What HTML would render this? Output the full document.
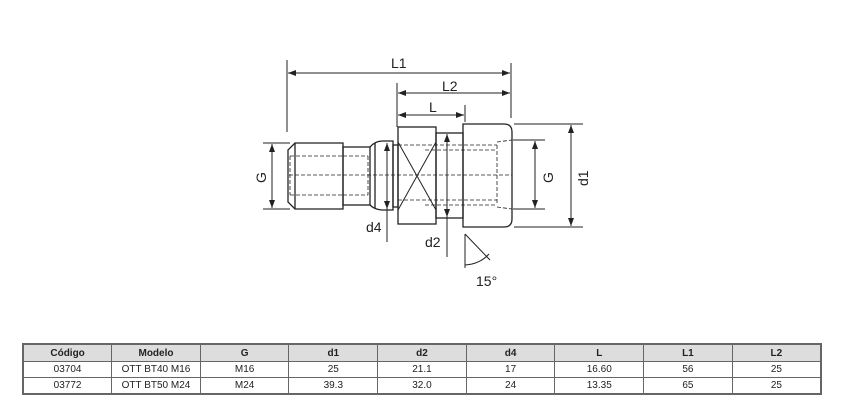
<!DOCTYPE html><html><head><style>
body{margin:0;background:#fff;width:844px;height:417px;position:relative;overflow:hidden;font-family:"Liberation Sans",sans-serif}
svg{position:absolute;left:0;top:0}
table{position:absolute;left:22px;top:343px;width:800px;border-collapse:collapse;font-size:10px;color:#222}
td{border:1px solid #666;text-align:center;height:15px;padding:0;width:11.1%}
tr.h td{background:#ddd;font-weight:bold;height:16px}
table{border:2px solid #666}
</style></head><body>
<svg width="844" height="417" viewBox="0 0 844 417" fill="none" stroke="#222" stroke-width="1">
<defs><marker id="a" markerWidth="8" markerHeight="6" refX="8" refY="3" orient="auto-start-reverse"><path d="M0,0L8,3L0,6z" fill="#222" stroke="none"/></marker></defs>
<!-- ext lines -->
<line x1="287" y1="60" x2="287" y2="132"/><line x1="511" y1="63" x2="511" y2="118"/>
<line x1="397" y1="83" x2="397" y2="127"/><line x1="465" y1="105" x2="465" y2="122"/>
<line x1="288" y1="73" x2="510" y2="73" marker-start="url(#a)" marker-end="url(#a)"/>
<line x1="398" y1="93" x2="510" y2="93" marker-start="url(#a)" marker-end="url(#a)"/>
<line x1="398" y1="115" x2="464" y2="115" marker-start="url(#a)" marker-end="url(#a)"/>
<!-- body -->
<g stroke-width="1.3">
<path d="M295,143 L343,143 L343,209 L295,209 L288,202 L288,150 Z"/>
<line x1="295" y1="143" x2="295" y2="209"/>
<rect x="343" y="147" width="27" height="58"/>
<path d="M370,147 Q375,141 383,141 L393,141 L393,210 L383,210 Q375,210 370,205"/>
<line x1="375" y1="143" x2="375" y2="208"/>
<rect x="393" y="145" width="5" height="62"/>
<rect x="398" y="127" width="38" height="97"/>
<rect x="436" y="133" width="27" height="85"/>
<path d="M463,124 L504,124 Q512,124 512,132 L512,219 Q512,227 504,227 L463,227 Z"/>
</g>
<line x1="398" y1="142" x2="436" y2="210"/><line x1="436" y1="142" x2="398" y2="210"/>
<g stroke-dasharray="4,2" stroke-width="0.8">
<line x1="289" y1="175" x2="512" y2="175"/>
<line x1="290" y1="156" x2="343" y2="156"/><line x1="290" y1="195" x2="343" y2="195"/>
<line x1="290" y1="156" x2="290" y2="195"/>
<line x1="343" y1="156" x2="368" y2="156"/><line x1="343" y1="195" x2="368" y2="195"/>
<line x1="368" y1="156" x2="368" y2="195"/>
<line x1="398" y1="145" x2="497" y2="145"/><line x1="398" y1="200" x2="497" y2="200"/>
<line x1="425" y1="150" x2="497" y2="150"/><line x1="425" y1="205" x2="497" y2="205"/>
<line x1="497" y1="145" x2="497" y2="205"/>
<line x1="497" y1="142" x2="512" y2="140"/><line x1="497" y1="207" x2="512" y2="209"/>
</g>
<!-- dims -->
<line x1="263" y1="143" x2="290" y2="143"/><line x1="263" y1="209" x2="290" y2="209"/>
<line x1="272" y1="144" x2="272" y2="208" marker-start="url(#a)" marker-end="url(#a)"/>
<line x1="513" y1="140" x2="545" y2="140"/><line x1="513" y1="209" x2="545" y2="209"/>
<line x1="535" y1="141" x2="535" y2="208" marker-start="url(#a)" marker-end="url(#a)"/>
<line x1="514" y1="124" x2="583" y2="124"/><line x1="514" y1="227" x2="583" y2="227"/>
<line x1="571" y1="125" x2="571" y2="226" marker-start="url(#a)" marker-end="url(#a)"/>
<line x1="387" y1="143" x2="387" y2="242" marker-start="url(#a)"/>
<line x1="387" y1="143" x2="387" y2="209" marker-end="url(#a)"/>
<line x1="447" y1="134" x2="447" y2="257" marker-start="url(#a)"/>
<line x1="447" y1="134" x2="447" y2="217" marker-end="url(#a)"/>
<line x1="465" y1="234" x2="465" y2="268"/><line x1="465" y1="234" x2="490" y2="260"/>
<path d="M465,265 Q480,264 489,254"/>
<g fill="#222" stroke="none" font-family="Liberation Sans,sans-serif" font-size="14">
<text x="391" y="68">L1</text><text x="442" y="91">L2</text><text x="429" y="112">L</text>
<text x="366" y="232">d4</text><text x="425" y="247">d2</text><text x="476" y="286">15°</text>
<text transform="translate(266,183) rotate(-90)">G</text>
<text transform="translate(553,183) rotate(-90)">G</text>
<text transform="translate(588,186) rotate(-90)">d1</text>
</g>
</svg>
<table>
<tr class="h"><td>Código</td><td>Modelo</td><td>G</td><td>d1</td><td>d2</td><td>d4</td><td>L</td><td>L1</td><td>L2</td></tr>
<tr><td>03704</td><td>OTT BT40 M16</td><td>M16</td><td>25</td><td>21.1</td><td>17</td><td>16.60</td><td>56</td><td>25</td></tr>
<tr><td>03772</td><td>OTT BT50 M24</td><td>M24</td><td>39.3</td><td>32.0</td><td>24</td><td>13.35</td><td>65</td><td>25</td></tr>
</table>
</body></html>
